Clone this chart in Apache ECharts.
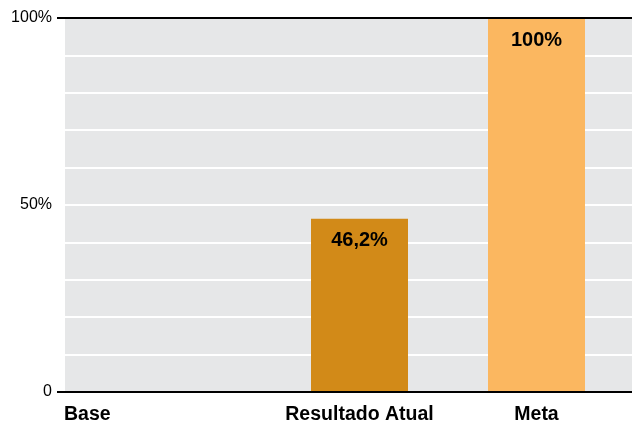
<!DOCTYPE html>
<html><head><meta charset="utf-8">
<script src="https://cdn.jsdelivr.net/npm/echarts@6/dist/echarts.min.js"></script>
<style>html,body{margin:0;padding:0;background:#fff}#c{width:632px;height:425px}</style>
</head><body><div id="c"></div>
<script>
const categories = ['Base', 'Resultado Atual', 'Meta'];
const values = [0, 46.2, 100];
const valueLabels = ['', '46,2%', '100%'];
const barColors = ['#d28a18', '#d28a18', '#fbb760'];
const yTickLabels = {0: '0', 50: '50%', 100: '100%'};

const FONT = '"Liberation Sans", Arial, sans-serif';
const chart = echarts.init(document.getElementById('c'), null, {renderer: 'canvas'});
chart.setOption({
  animation: false,
  grid: [
    {left: 65, right: 0, top: 18, bottom: 33, show: true, backgroundColor: '#e6e7e8', borderWidth: 0},
    {left: 94, right: 7, top: 18, bottom: 33}
  ],
  xAxis: [
    {gridIndex: 0, type: 'value', show: false},
    {gridIndex: 1, type: 'category', data: categories.map((c, i) => ({value: c})),
     axisLine: {show: false}, axisTick: {show: false},
     axisLabel: {
       margin: 14, interval: 0,
       formatter: v => v === 'Base' ? '{b|' + v + '}' : '{n|' + v + '}',
       rich: {
         b: {width: 237, align: 'left', fontFamily: FONT, fontWeight: 'bold', fontSize: 19.5, color: '#000'},
         n: {fontFamily: FONT, fontWeight: 'bold', fontSize: 19.5, color: '#000'}
       }
     }}
  ],
  yAxis: [
    {gridIndex: 0, type: 'value', position: 'left', min: 0, max: 100, interval: 10,
     axisLine: {show: false}, axisTick: {show: false},
     splitLine: {show: true, lineStyle: {color: '#ffffff', width: 2}},
     axisLabel: {margin: 13, fontFamily: FONT, fontSize: 16, color: '#000',
       formatter: v => v === 50 ? yTickLabels[50] : ''}},
    {gridIndex: 0, type: 'value', position: 'left', offset: 0, z: 5, min: 0, max: 100, interval: 100,
     axisLine: {show: false},
     axisTick: {show: true, length: 8, lineStyle: {color: '#000', width: 2}},
     splitLine: {show: true, lineStyle: {color: '#000', width: 2}},
     axisLabel: {margin: 13, fontFamily: FONT, fontSize: 16, color: '#000',
       formatter: v => yTickLabels[v] || ''}},
    {gridIndex: 1, type: 'value', min: 0, max: 100, show: false}
  ],
  series: [{
    type: 'bar', xAxisIndex: 1, yAxisIndex: 2, barWidth: 97, z: 1,
    data: values.map((v, i) => ({value: v, itemStyle: {color: barColors[i]},
      label: {formatter: valueLabels[i]}})),
    label: {show: true, position: 'insideTop', distance: 12,
      fontFamily: FONT, fontWeight: 'bold', fontSize: 20, color: '#000'}
  }]
});
</script></body></html>
